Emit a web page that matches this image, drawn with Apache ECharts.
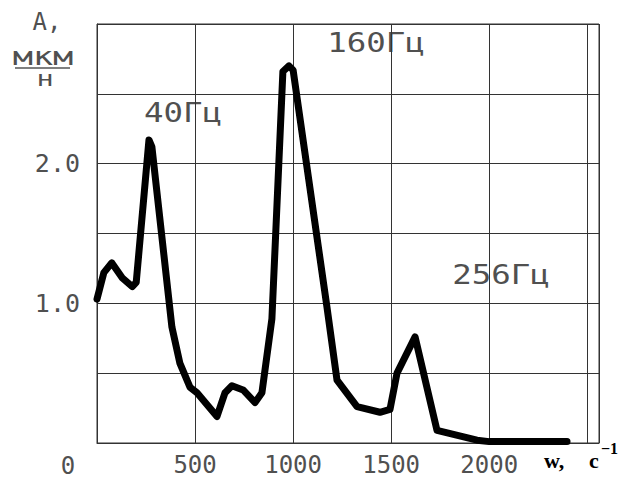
<!DOCTYPE html>
<html>
<head>
<meta charset="utf-8">
<script src="https://cdn.jsdelivr.net/npm/echarts@6/dist/echarts.min.js"></script>
<style>
body{margin:0;background:#fff;}
#chart{width:630px;height:480px;}
</style>
</head>
<body>
<div id="chart"></div>
<script>
// частота w, c^-1
var freq = [0, 35, 75, 130, 180, 200, 265, 280, 382, 423, 474, 510, 612, 653, 688, 745, 806, 841,
	892, 948, 979, 1000, 1173, 1224, 1326, 1443, 1494, 1530, 1622, 1734, 1938, 2000, 2397];
// амплитуда A, мкм/н
var amp = [1.03, 1.22, 1.29, 1.18, 1.12, 1.15, 2.17, 2.12, 0.83, 0.57, 0.40, 0.36, 0.19, 0.36, 0.41, 0.38, 0.29, 0.36,
	0.89, 2.66, 2.70, 2.67, 0.97, 0.45, 0.26, 0.22, 0.24, 0.50, 0.76, 0.09, 0.02, 0.01, 0.01];

var xTicks = ['500', '1000', '1500', '2000'];
var yTicks = ['1.0', '2.0'];
var peakNames = ['40Гц', '160Гц', '256Гц'];

var pts = [];
for (var i = 0; i < freq.length; i++) {
	pts.push([freq[i], amp[i]]);
}

var txtColor = '#505050';
var mono = '"DejaVu Sans Mono", monospace';
var serif = '"Liberation Serif", serif';

var myChart = echarts.init(document.getElementById('chart'), null, {renderer: 'svg'});

var option = {
	backgroundColor: '#fff',
	animation: false,
	grid: {
		left: 97, top: 24, right: 31, bottom: 37,
		show: true, borderColor: '#333', borderWidth: 1
	},
	xAxis: {
		type: 'value',
		min: 0, max: 2560, interval: 500,
		axisLine: {show: true, lineStyle: {color: '#333', width: 1}},
		axisTick: {show: false},
		splitLine: {show: true, lineStyle: {color: '#333', width: 1}},
		axisLabel: {
			showMaxLabel: false,
			color: txtColor, fontFamily: mono, fontSize: 24, margin: 10,
			formatter: function (v) {
				var s = String(v);
				return xTicks.indexOf(s) >= 0 ? s : '';
			}
		}
	},
	yAxis: {
		type: 'value',
		min: 0, max: 3, interval: 0.5,
		axisLine: {show: true, lineStyle: {color: '#333', width: 1}},
		axisTick: {show: false},
		splitLine: {show: true, lineStyle: {color: '#333', width: 1}},
		axisLabel: {
			color: txtColor, fontFamily: mono, fontSize: 25, margin: 17,
			formatter: function (v) {
				var s = v.toFixed(1);
				return yTicks.indexOf(s) >= 0 ? s : '';
			}
		}
	},
	series: [{
		type: 'line',
		data: pts,
		smooth: false,
		showSymbol: false,
		lineStyle: {color: '#000', width: 7, join: 'round', cap: 'round'}
	}],
	graphic: [
		// подписи пиков
		{type: 'text', x: 183, y: 112, scaleX: 1.2, style: {text: peakNames[0], font: '27px ' + mono, fill: txtColor, align: 'center', verticalAlign: 'middle'}},
		{type: 'text', x: 376, y: 42, scaleX: 1.2, style: {text: peakNames[1], font: '27px ' + mono, fill: txtColor, align: 'center', verticalAlign: 'middle'}},
		{type: 'text', x: 501, y: 274, scaleX: 1.2, style: {text: peakNames[2], font: '27px ' + mono, fill: txtColor, align: 'center', verticalAlign: 'middle'}},
		// ось Y: A, мкм/н
		{type: 'text', x: 47, y: 22, style: {text: 'A,', font: '24px ' + mono, fill: txtColor, align: 'center', verticalAlign: 'middle'}},
		{type: 'text', x: 43, y: 57, scaleX: 1.4, style: {text: 'мкм', font: '24px ' + mono, fill: txtColor, align: 'center', verticalAlign: 'middle'}},
		{type: 'line', shape: {x1: 15, y1: 68, x2: 70, y2: 68}, style: {stroke: '#555', lineWidth: 1.5}},
		{type: 'text', x: 45, y: 78, scaleX: 1.3, style: {text: 'н', font: '22px ' + mono, fill: txtColor, align: 'center', verticalAlign: 'middle'}},
		// ось X: 0 и единицы
		{type: 'text', x: 68, y: 466, style: {text: '0', font: '24px ' + mono, fill: txtColor, align: 'center', verticalAlign: 'middle'}},
		{type: 'text', x: 544, y: 460, style: {text: 'w,', font: 'bold 22px ' + serif, fill: '#000', align: 'left', verticalAlign: 'middle'}},
		{type: 'text', x: 589, y: 460, style: {text: 'c', font: 'bold 22px ' + serif, fill: '#000', align: 'left', verticalAlign: 'middle'}},
		{type: 'text', x: 601, y: 448, style: {text: '−1', font: 'bold 16px ' + serif, fill: '#000', align: 'left', verticalAlign: 'middle'}}
	]
};
myChart.setOption(option);
</script>
</body>
</html>
